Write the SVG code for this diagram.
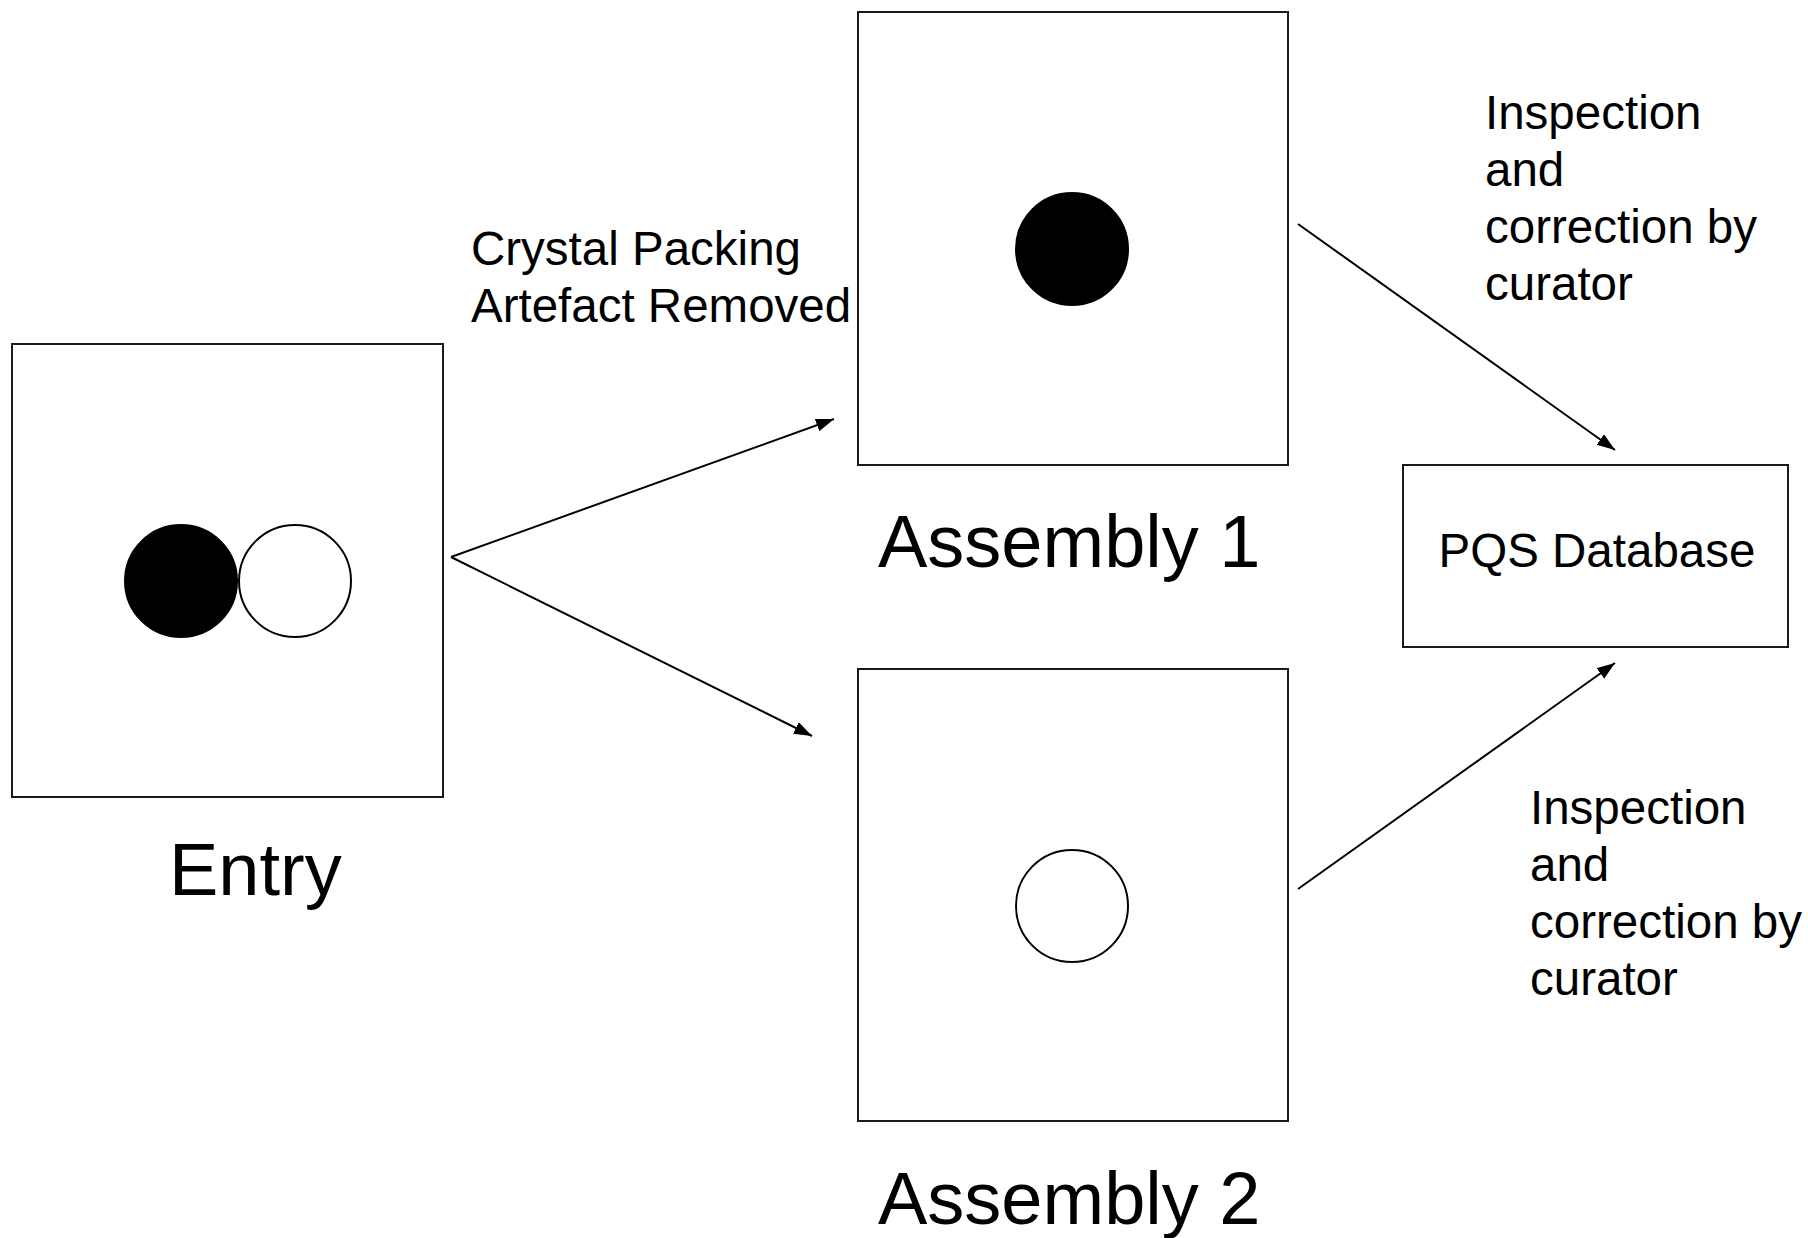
<svg xmlns="http://www.w3.org/2000/svg" width="1808" height="1238" viewBox="0 0 1808 1238">
  <style>
    .box { fill: #ffffff; stroke: #1a1a1a; stroke-width: 2; }
    .dot-filled { fill: #000000; stroke: #000000; stroke-width: 2; }
    .dot-empty { fill: #ffffff; stroke: #000000; stroke-width: 2; }
    .title { font-family: "Liberation Sans", Arial, sans-serif; font-size: 74px; fill: #000000; }
    .label { font-family: "Liberation Sans", Arial, sans-serif; font-size: 47.5px; fill: #000000; }
    .edge { fill: none; stroke: #000000; stroke-width: 2; }
  </style>
  <defs>
    <marker id="arrow" markerUnits="userSpaceOnUse" markerWidth="20" markerHeight="14" refX="18" refY="6.5" orient="auto">
      <path d="M0,0 L18,6.5 L0,13 z" fill="#000000"/>
    </marker>
  </defs>
  <rect width="1808" height="1238" fill="#ffffff"/>

  <!-- Source entry with two subunits -->
  <g id="entry">
    <rect class="box" x="12" y="344" width="431" height="453"/>
    <circle class="dot-filled" cx="181" cy="581" r="56"/>
    <circle class="dot-empty" cx="295" cy="581" r="56"/>
    <text class="title" x="169" y="895">Entry</text>
  </g>

  <!-- Assembly with the filled subunit -->
  <g id="assembly1">
    <rect class="box" x="858" y="12" width="430" height="453"/>
    <circle class="dot-filled" cx="1072" cy="249" r="56"/>
    <text class="title" x="878" y="567">Assembly 1</text>
  </g>

  <!-- Assembly with the open subunit -->
  <g id="assembly2">
    <rect class="box" x="858" y="669" width="430" height="452"/>
    <circle class="dot-empty" cx="1072" cy="906" r="56"/>
    <text class="title" x="878" y="1224">Assembly 2</text>
  </g>

  <!-- Target database -->
  <g id="pqs">
    <rect class="box" x="1403" y="465" width="385" height="182"/>
    <text class="label" x="1597" y="567" text-anchor="middle">PQS Database</text>
  </g>

  <!-- Connectors -->
  <g id="connectors">
    <line class="edge" x1="451" y1="557" x2="834" y2="419" marker-end="url(#arrow)"/>
    <line class="edge" x1="451" y1="557" x2="812" y2="736" marker-end="url(#arrow)"/>
    <line class="edge" x1="1298" y1="224" x2="1615" y2="450" marker-end="url(#arrow)"/>
    <line class="edge" x1="1298" y1="889" x2="1615" y2="663" marker-end="url(#arrow)"/>
  </g>

  <!-- Edge labels -->
  <g id="labels">
    <text class="label">
      <tspan x="471" y="265">Crystal Packing</tspan>
      <tspan x="471" y="322">Artefact Removed</tspan>
    </text>
    <text class="label">
      <tspan x="1485" y="129">Inspection</tspan>
      <tspan x="1485" y="186">and</tspan>
      <tspan x="1485" y="243">correction by</tspan>
      <tspan x="1485" y="300">curator</tspan>
    </text>
    <text class="label">
      <tspan x="1530" y="824">Inspection</tspan>
      <tspan x="1530" y="881">and</tspan>
      <tspan x="1530" y="938">correction by</tspan>
      <tspan x="1530" y="995">curator</tspan>
    </text>
  </g>
</svg>
